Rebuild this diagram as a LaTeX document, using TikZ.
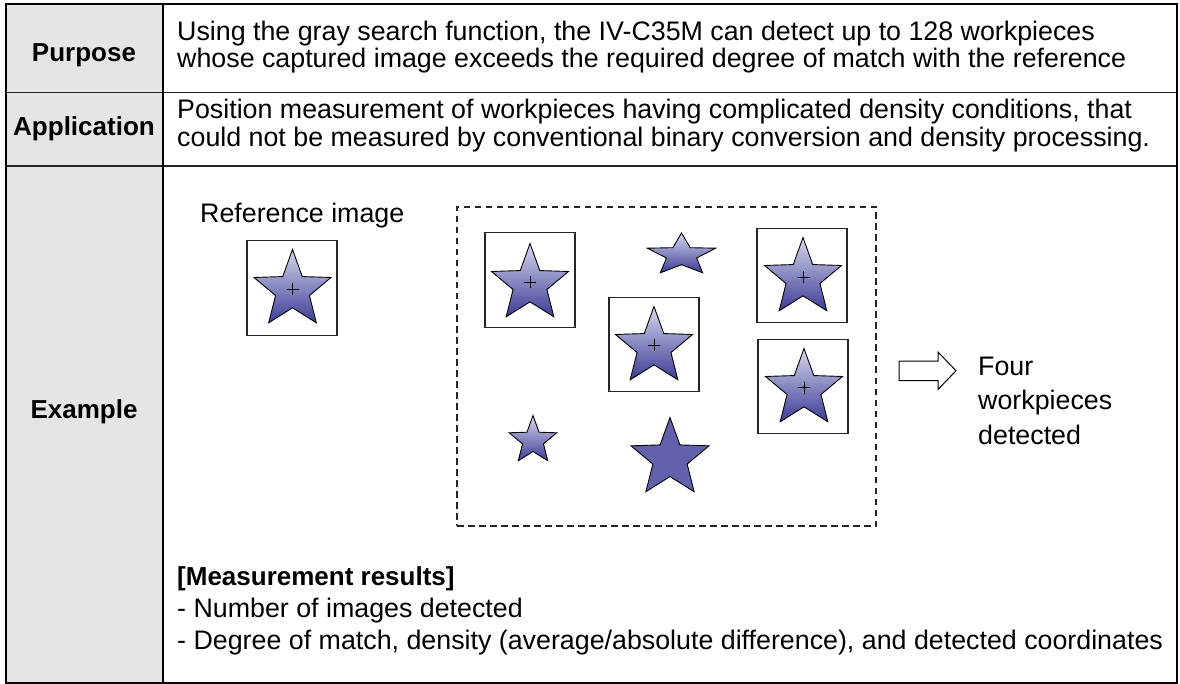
\documentclass[tikz,border=0pt]{standalone}
\usepackage{fontspec}
\setmainfont{Liberation Sans}
\definecolor{startop}{RGB}{214,214,238}
\definecolor{starbot}{RGB}{60,60,150}
\definecolor{starsolid}{RGB}{98,98,172}
\definecolor{colgray}{RGB}{229,229,229}
\begin{document}
\begin{tikzpicture}[x=1pt,y=-1pt,
  txt/.style={inner sep=0pt, anchor=base west, font=\fontsize{26.8}{30}\selectfont},
  hdr/.style={inner sep=0pt, anchor=base, font=\fontsize{26}{30}\selectfont\bfseries},
  border/.style={draw=black, line width=2.2pt},
  rowline/.style={draw=black!85, line width=1.6pt},
  divline/.style={draw=black, line width=2.6pt},
  frame/.style={draw=black!85, line width=1.2pt, inner sep=0pt, minimum width=90pt, minimum height=94.5pt},
  dashbox/.style={draw=black!85, line width=1.1pt, dash pattern=on 6.5pt off 4.5pt, inner sep=0pt},
  starline/.style={draw=black, line width=0.9pt},
  gfill/.style={top color=startop, bottom color=starbot},
  sfill/.style={fill=starsolid},
  cross/.style={draw=black, line width=0.9pt},
  pics/wstar/.style n args={3}{code={
    \path[#3] (-90:#1 and #2)
      -- (-54:{0.41*#1} and {0.41*#2}) -- (-18:#1 and #2)
      -- (18:{0.44*#1} and {0.44*#2}) -- (54:#1 and #2)
      -- (90:{0.44*#1} and {0.44*#2}) -- (126:#1 and #2)
      -- (162:{0.44*#1} and {0.44*#2}) -- (198:#1 and #2)
      -- (234:{0.41*#1} and {0.41*#2}) -- cycle;
  }},
  pics/plus/.style={code={\draw[cross] (-6,0) -- (6,0) (0,-6) -- (0,6);}}
]
\useasboundingbox (0,0) rectangle (1180,684);
% table
\fill[colgray] (6,4) rectangle (163,683);
\draw[rowline] (6,92.5) -- (1177,92.5);
\draw[rowline] (6,166) -- (1177,166);
\draw[divline] (163,4) -- (163,683);
\draw[border] (6,4) rectangle (1177,683);
% headers
\node[hdr] (hpurpose) at (84,62) {Purpose};
\node[hdr] (happ) at (84,136) {Application};
\node[hdr] (hex) at (84,418) {Example};
% row texts
\node[txt] (p1) at (177,40.5) {Using the gray search function, the IV-C35M can detect up to 128 workpieces};
\node[txt] (p2) at (177,67.5) {whose captured image exceeds the required degree of match with the reference};
\node[txt] (a1) at (177,119) {Position measurement of workpieces having complicated density conditions, that};
\node[txt] (a2) at (177,146.5) {could not be measured by conventional binary conversion and density processing.};
% reference image
\node[txt] (reftxt) at (200,223) {Reference image};
\node[frame] (refbox) at (292,288) {};
\pic (sref) at (292.5,290) {wstar={40.5}{40.5}{starline,gfill}};
\pic at (292.5,289) {plus};
% search area
\node[dashbox, minimum width=419pt, minimum height=319pt] (area) at (666.5,366.5) {};
\node[frame] (b1) at (530,280) {};
\node[frame] (b2) at (654,344.5) {};
\node[frame] (b3) at (802,275.5) {};
\node[frame] (b4) at (803,386.5) {};
\pic at (530,284) {wstar={40.5}{40.5}{starline,gfill}};
\pic at (530,282.5) {plus};
\pic at (654,347) {wstar={40.5}{40.5}{starline,gfill}};
\pic at (654,345) {plus};
\pic at (803,278) {wstar={40.5}{40.5}{starline,gfill}};
\pic at (803.5,277) {plus};
\pic at (804,389) {wstar={40.5}{40.5}{starline,gfill}};
\pic at (804,387.5) {plus};
\pic at (681.5,255) {wstar={36}{22}{starline,gfill}};
\pic at (533,440.5) {wstar={25}{25}{starline,gfill}};
\pic at (670,458.5) {wstar={41}{41}{starline,sfill}};
% arrow
\draw[line width=1pt, fill=white] (899,361) -- (938,361) -- (938,352) -- (956,370.7) -- (938,389.5) -- (938,380.7) -- (899,380.7) -- cycle;
\node[txt] (r1) at (978,375) {Four};
\node[txt] (r2) at (978,409.5) {workpieces};
\node[txt] (r3) at (978,444) {detected};
% measurement results
\node[txt, font=\fontsize{26}{30}\selectfont\bfseries] (m0) at (177,585) {[Measurement results]};
\node[txt] (m1) at (177,617) {- Number of images detected};
\node[txt] (m2) at (177,649) {- Degree of match, density (average/absolute difference), and detected coordinates};
\end{tikzpicture}
\end{document}
